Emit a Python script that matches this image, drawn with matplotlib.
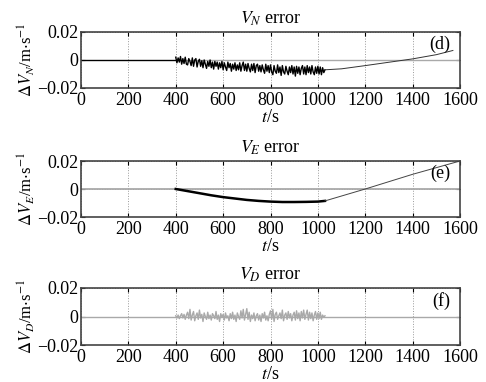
import numpy as np
from matplotlib import pyplot as plt

plt.rcParams['font.family'] = ['Liberation Serif', 'DejaVu Serif']
plt.rcParams['mathtext.fontset'] = 'stix'

# values, in 1e-3 m/s
mm = 1e-3

t_noise = np.arange(400, 1031, 5)

vn_noise = [2.0, -2.0, 1.5, -1.5, 2.5, -3.0, 1.0, -2.5, 2.0, -3.0,
            -3.5, 1.0, -1.0, -4.0, 1.5, -4.5, 0.0, 1.0, -5.0, -1.0,
            0.5, -4.5, -0.5, -5.5, 0.0, -3.0, -6.0, -1.0, -4.5, 0.0,
            -5.5, -1.5, -6.5, -1.0, -4.5, -1.5, -6.5, -2.0, -5.5, -1.0,
            -7.0, -2.0, -5.0, -7.5, -1.5, -5.5, -2.5, -8.0, -3.0, -6.5,
            -2.0, -7.5, -3.5, -7.0, -2.0, -8.0, -4.0, -1.5, -7.5, -3.0,
            -8.0, -2.5, -6.0, -8.5, -3.0, -7.5, -2.5, -9.0, -4.0, -3.0,
            -8.0, -4.0, -8.5, -3.5, -7.0, -9.5, -3.0, -8.0, -4.0, -9.0,
            -3.5, -8.5, -10.5, -4.0, -8.0, -9.5, -3.5, -9.0, -5.0, -11.0,
            -4.0, -8.5, -10.0, -4.5, -8.0, -10.5, -5.0, -9.0, -4.0, -10.0,
            -5.0, -11.5, -4.5, -9.5, -5.0, -10.5, -6.0, -4.0, -10.0, -5.0,
            -10.5, -4.0, -9.0, -5.0, -10.0, -4.0, -8.5, -10.5, -5.0, -9.5,
            -4.5, -10.0, -5.0, -10.5, -5.5, -9.0, -7.0]
t_vn_after = [1030, 1100, 1200, 1300, 1400, 1500, 1570]
vn_after = [-7.0, -6.3, -4.0, -1.6, 0.8, 3.8, 6.8]

t_ve = [400, 450, 500, 550, 600, 650, 700, 750, 800, 850, 900, 950, 1000, 1030]
ve_mid = [0.0, -1.5, -3.0, -4.5, -5.8, -6.8, -7.8, -8.5, -9.0, -9.3, -9.3, -9.2, -9.0, -8.5]
t_ve_after = [1030, 1200, 1400, 1600]
ve_after = [-8.5, 0.0, 10.5, 20.0]

vd_noise = [0.5, -1.0, 1.0, -1.5, 0.5, 2.0, -1.0, 1.5, -2.0, 1.0,
            3.0, -1.5, 5.0, -2.5, 1.0, 3.5, -3.0, 0.5, 2.5, -2.0,
            4.5, -1.0, 1.5, -3.5, 2.5, 0.0, -2.0, 3.0, -1.5, 1.0,
            -2.5, 2.0, 0.5, -1.5, 3.5, -2.0, 1.0, -3.5, 2.0, -0.5,
            1.5, -2.5, 2.5, -1.0, 0.5, -3.0, 2.0, -1.5, 3.0, -2.0,
            1.0, -3.5, 2.5, 0.0, -2.0, 4.0, -1.0, 5.0, -2.5, 1.5,
            5.5, -2.0, 3.0, -3.5, 1.0, -1.5, 2.5, -3.0, 0.5, 2.0,
            -2.5, 1.0, -3.5, 2.0, -1.0, 3.0, -2.5, 0.5, -3.0, 1.5,
            4.0, -2.0, 5.0, -3.5, 1.5, 3.0, -2.0, 0.5, 2.5, -1.5,
            4.5, -3.0, 1.0, 2.5, -2.0, 3.5, -1.0, 2.0, -3.0, 1.0,
            3.0, -2.5, 4.0, -1.5, 2.5, -3.0, 3.5, -1.0, 4.5, -2.0,
            1.5, 4.5, -2.5, 3.0, -1.5, 2.5, -3.0, 1.0, 3.5, -2.0,
            2.5, -1.5, 3.0, -2.0, 1.0, -0.5, 0.5]

xticks = [0, 200, 400, 600, 800, 1000, 1200, 1400, 1600]
yticks = [-0.02, 0, 0.02]
ytick_labels = ['\u22120.02', '0', '0.02']

titles = [r'$V_N$ error', r'$V_E$ error', r'$V_D$ error']
ylabels = [r'$\Delta V_N$/m$\cdot$s$^{-1}$', r'$\Delta V_E$/m$\cdot$s$^{-1}$',
           r'$\Delta V_D$/m$\cdot$s$^{-1}$']
tags = ['(d)', '(e)', '(f)']

fig = plt.figure(figsize=(4.86, 3.82), dpi=100)
W, H = 486.0, 382.0
boxes = [(81, 32, 460, 88), (81, 161, 460, 217), (81, 288, 460, 345)]
axes = []
for (x0, y0, x1, y1) in boxes:
    axes.append(fig.add_axes([x0 / W, 1 - y1 / H, (x1 - x0) / W, (y1 - y0) / H]))

gray = '#a9a9a9'

ax = axes[0]
ax.plot([0, 1600], [0, 0], color=gray, lw=1.0)
ax.plot([0, 400], [0, 0], color='k', lw=0.9)
ax.plot(t_noise, np.array(vn_noise) * mm, color='k', lw=1.0)
ax.plot(t_vn_after, np.array(vn_after) * mm, color='#333333', lw=0.7)

ax = axes[1]
ax.plot([0, 1600], [0, 0], color=gray, lw=1.3)
ax.plot(t_ve, np.array(ve_mid) * mm, color='k', lw=1.8)
ax.plot(t_ve_after, np.array(ve_after) * mm, color='#444444', lw=0.7)

ax = axes[2]
ax.plot([0, 1600], [0, 0], color=gray, lw=1.0)
ax.plot(t_noise, np.array(vd_noise) * mm, color=gray, lw=1.0)

for i, ax in enumerate(axes):
    ax.set_xlim(0, 1600)
    ax.set_ylim(-0.02, 0.02)
    ax.set_xticks(xticks)
    ax.set_xticklabels([str(v) for v in xticks])
    ax.set_yticks(yticks)
    ax.set_yticklabels(ytick_labels)
    ax.tick_params(direction='in', top=True, right=True, length=3, width=0.8,
                   labelsize=13, pad=2)
    ax.tick_params(axis='x', pad=3)
    ax.grid(True, linestyle=':', color='#999999', lw=0.7)
    for s in ax.spines.values():
        s.set_linewidth(1.2)
        s.set_color('#444444')
    ax.set_title(titles[i], fontsize=13, pad=6)
    ax.set_xlabel(r'$t$/s', fontsize=13, labelpad=0)
    ax.set_ylabel(ylabels[i], fontsize=12, labelpad=0)
    ax.text(0.975, 0.78, tags[i], transform=ax.transAxes, ha='right', va='center',
            fontsize=13)

fig.savefig('out.png', dpi=100)
